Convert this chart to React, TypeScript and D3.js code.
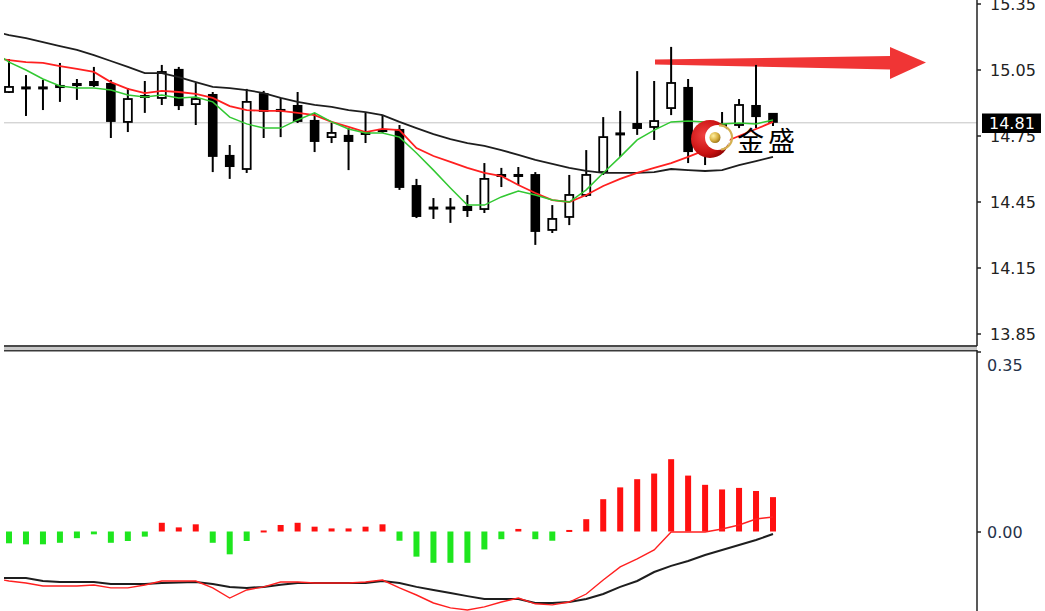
import React from "react";
import * as d3 from "d3";

const W = 1045;
const H = 611;

const priceTicks = [15.35, 15.05, 14.75, 14.45, 14.15, 13.85];
const macdTicks = [0.35, 0.0];
const lastPrice = 14.81;
const logoText = "金盛";

const open = [14.950, 14.973, 14.973, 14.982, 14.991, 15.000, 14.991, 14.814, 14.936, 14.923, 15.055, 14.895, 14.941, 14.664, 14.600, 14.945, 14.873, 14.891, 14.823, 14.745, 14.755, 14.768, 14.782, 14.782, 14.527, 14.427, 14.427, 14.432, 14.418, 14.577, 14.577, 14.577, 14.323, 14.382, 14.482, 14.586, 14.764, 14.809, 14.791, 14.877, 14.973, 14.732, 14.773, 14.800, 14.891, 14.855];
const high = [15.100, 15.027, 15.005, 15.082, 15.009, 15.064, 15.005, 14.968, 15.000, 15.073, 15.064, 14.991, 14.950, 14.709, 14.964, 14.955, 14.923, 14.950, 14.855, 14.809, 14.786, 14.855, 14.845, 14.800, 14.555, 14.468, 14.468, 14.482, 14.627, 14.605, 14.609, 14.586, 14.436, 14.573, 14.686, 14.836, 14.864, 15.045, 15.000, 15.155, 15.009, 14.786, 14.859, 14.918, 15.073, 14.855];
const low = [14.945, 14.841, 14.868, 14.905, 14.914, 14.973, 14.741, 14.768, 14.855, 14.891, 14.868, 14.800, 14.586, 14.555, 14.582, 14.741, 14.745, 14.809, 14.677, 14.718, 14.595, 14.718, 14.764, 14.505, 14.377, 14.373, 14.355, 14.382, 14.400, 14.518, 14.527, 14.255, 14.309, 14.345, 14.473, 14.573, 14.655, 14.755, 14.732, 14.845, 14.627, 14.618, 14.745, 14.786, 14.786, 14.795];
const close = [14.973, 14.964, 14.964, 14.968, 14.977, 14.977, 14.814, 14.918, 14.923, 15.041, 14.886, 14.918, 14.655, 14.609, 14.905, 14.859, 14.859, 14.814, 14.723, 14.764, 14.723, 14.755, 14.768, 14.514, 14.382, 14.418, 14.418, 14.409, 14.555, 14.564, 14.564, 14.314, 14.373, 14.482, 14.573, 14.745, 14.755, 14.782, 14.818, 14.991, 14.677, 14.705, 14.800, 14.891, 14.836, 14.810];

// moving averages: first value belongs to the (hidden) bar before the first candle
const maSlow = [15.227, 15.209, 15.195, 15.177, 15.159, 15.141, 15.118, 15.091, 15.064, 15.036, 15.036, 15.018, 14.995, 14.973, 14.968, 14.959, 14.945, 14.923, 14.905, 14.891, 14.882, 14.868, 14.859, 14.845, 14.814, 14.786, 14.759, 14.736, 14.718, 14.705, 14.686, 14.664, 14.641, 14.623, 14.605, 14.591, 14.582, 14.582, 14.582, 14.586, 14.600, 14.595, 14.591, 14.595, 14.618, 14.636, 14.655];
const maMid = [15.105, 15.095, 15.086, 15.082, 15.068, 15.055, 15.041, 14.995, 14.964, 14.945, 14.955, 14.950, 14.941, 14.923, 14.886, 14.868, 14.864, 14.864, 14.855, 14.845, 14.814, 14.791, 14.768, 14.782, 14.777, 14.695, 14.659, 14.632, 14.605, 14.582, 14.568, 14.527, 14.491, 14.459, 14.450, 14.482, 14.523, 14.555, 14.582, 14.605, 14.627, 14.655, 14.686, 14.718, 14.750, 14.782, 14.814];
const maFast = [15.140, 15.086, 15.050, 15.009, 14.977, 14.968, 14.968, 14.959, 14.936, 14.927, 14.936, 14.923, 14.927, 14.905, 14.836, 14.805, 14.786, 14.786, 14.823, 14.855, 14.814, 14.782, 14.764, 14.764, 14.745, 14.673, 14.595, 14.514, 14.436, 14.436, 14.473, 14.500, 14.482, 14.459, 14.450, 14.505, 14.582, 14.655, 14.732, 14.777, 14.814, 14.818, 14.814, 14.805, 14.809, 14.805, 14.823];

const hist = [-0.023, -0.025, -0.025, -0.022, -0.013, -0.0055, -0.022, -0.0185, -0.010, 0.017, 0.008, 0.014, -0.022, -0.0445, -0.0185, 0.002, 0.0127, 0.017, 0.0094, 0.006, 0.006, 0.0094, 0.014, -0.018, -0.049, -0.061, -0.061, -0.061, -0.035, -0.015, 0.005, -0.015, -0.018, 0.003, 0.024, 0.063, 0.086, 0.102, 0.113, 0.141, 0.109, 0.091, 0.082, 0.085, 0.079, 0.067];
// first value belongs to the hidden bar before the first candle
const signalLine = [-0.0907, -0.0907, -0.0907, -0.0965, -0.0985, -0.0985, -0.0985, -0.1024, -0.1024, -0.1024, -0.1004, -0.0995, -0.0985, -0.1024, -0.108, -0.110, -0.108, -0.104, -0.1004, -0.1004, -0.1004, -0.1004, -0.1004, -0.0965, -0.1004, -0.108, -0.114, -0.120, -0.126, -0.1316, -0.1316, -0.1316, -0.1394, -0.1394, -0.1375, -0.1316, -0.1219, -0.108, -0.0965, -0.079, -0.067, -0.0575, -0.0458, -0.036, -0.0263, -0.0166, -0.0049];
const macdLine = [-0.0907, -0.0965, -0.1004, -0.1063, -0.1063, -0.1063, -0.1043, -0.110, -0.110, -0.1043, -0.0965, -0.0965, -0.0965, -0.110, -0.1297, -0.114, -0.108, -0.0985, -0.0985, -0.1004, -0.1004, -0.1004, -0.0985, -0.0946, -0.110, -0.1238, -0.1394, -0.149, -0.153, -0.147, -0.1375, -0.1297, -0.141, -0.143, -0.1375, -0.1219, -0.0946, -0.069, -0.0536, -0.036, -0.001, -0.001, -0.001, 0.0049, 0.0127, 0.0244, 0.0283];

export default function App() {
  const x = d3.scaleLinear().domain([0, close.length - 1]).range([9, 773]);
  const yP = d3.scaleLinear().domain([13.85, 15.35]).range([334, 4]);
  const yM = d3.scaleLinear().domain([0, 0.35]).range([531.5, 352]);

  const lineP = d3.line<number>().x((_, i) => x(i - 1)).y((d) => yP(d));
  const lineM = d3.line<number>().x((_, i) => x(i - 1)).y((d) => yM(d));

  const axisX = 977;
  const font = "DejaVu Sans, Verdana, sans-serif";

  return (
    <div style={{ position: "fixed", left: 0, top: 0, width: W, height: H, background: "#fff" }}>
      <svg width={W} height={H} style={{ display: "block" }}>
        <defs>
          <clipPath id="mainClip">
            <rect x={4} y={0} width={axisX - 4} height={345} />
          </clipPath>
          <clipPath id="subClip">
            <rect x={4} y={351} width={axisX - 4} height={H - 351} />
          </clipPath>
          <radialGradient id="logoRed" cx="35%" cy="40%" r="70%">
            <stop offset="0%" stopColor="#f04040" />
            <stop offset="70%" stopColor="#c81010" />
            <stop offset="100%" stopColor="#8a0000" />
          </radialGradient>
          <radialGradient id="logoGold" cx="35%" cy="35%" r="70%">
            <stop offset="0%" stopColor="#fff0a0" />
            <stop offset="60%" stopColor="#d8b040" />
            <stop offset="100%" stopColor="#9a7418" />
          </radialGradient>
        </defs>
        <rect x={0} y={0} width={W} height={H} fill="#fff" />

        {/* main panel */}
        <g clipPath="url(#mainClip)">
          <line x1={4} x2={axisX} y1={yP(lastPrice)} y2={yP(lastPrice)} stroke="#c4c4c4" strokeWidth={1} />
          {/* arrow */}
          <polygon
            points={`655,59.5 890,56 890,47 926,62.5 890,79 890,69.5 655,64.5`}
            fill="#f03535"
          />
          {/* candles */}
          {close.map((c, i) => {
            const o = open[i];
            const bull = c > o;
            const cx = x(i);
            const top = yP(Math.max(o, c));
            const bot = yP(Math.min(o, c));
            const h = Math.max(bot - top, 3);
            const t = bot - top < 3 ? (top + bot) / 2 - 1.5 : top;
            return (
              <g key={i}>
                <line x1={cx} x2={cx} y1={yP(high[i])} y2={yP(low[i])} stroke="#000" strokeWidth={2} />
                {bull ? (
                  <rect x={cx - 4} y={t} width={8} height={h} fill="#fff" stroke="#000" strokeWidth={1.8} />
                ) : (
                  <rect x={cx - 4.8} y={t} width={9.6} height={h} fill="#000" />
                )}
              </g>
            );
          })}
          <path d={lineP(maSlow) || ""} fill="none" stroke="#1e1e1e" strokeWidth={1.8} />
          <path d={lineP(maMid) || ""} fill="none" stroke="#ff2020" strokeWidth={1.8} />
          <path d={lineP(maFast) || ""} fill="none" stroke="#32c832" strokeWidth={1.5} />

          {/* logo */}
          <g>
            <circle cx={710} cy={139} r={19} fill="url(#logoRed)" />
            <circle cx={717.5} cy={137.5} r={12.5} fill="#fff" />
            <path d="M 719 125.5 A 12 12 0 0 1 721 149.5" fill="none" stroke="#d4b050" strokeWidth={2.2} />
            <circle cx={715} cy={137.5} r={5.5} fill="url(#logoGold)" />
            <text x={737} y={151} fontFamily="Noto Sans CJK SC, sans-serif" fontSize={27} letterSpacing={4} fill="#000">
              {logoText}
            </text>
          </g>
        </g>

        {/* sub panel */}
        <g clipPath="url(#subClip)">
          {hist.map((v, i) => {
            const y0 = yM(0);
            const y1 = yM(v);
            const top = Math.min(y0, y1);
            const h = Math.max(Math.abs(y1 - y0), 2);
            return (
              <rect key={i} x={x(i) - 3} y={top} width={6} height={h} fill={v >= 0 ? "#ff1010" : "#1ee61e"} />
            );
          })}
          <path d={lineM(signalLine) || ""} fill="none" stroke="#1e1e1e" strokeWidth={2} />
          <path d={lineM(macdLine) || ""} fill="none" stroke="#ff2020" strokeWidth={1.4} />
        </g>

        {/* separators / frame */}
        <rect x={4} y={345} width={axisX - 4} height={2} fill="#4a4a4a" />
        <rect x={4} y={347} width={axisX - 4} height={3} fill="#c8c8c8" />
        <rect x={4} y={350} width={axisX - 4} height={1.5} fill="#3a3a3a" />
        <line x1={axisX} x2={axisX} y1={0} y2={346} stroke="#222" strokeWidth={1.5} />
        <line x1={axisX} x2={axisX} y1={350} y2={H} stroke="#222" strokeWidth={1.5} />

        {/* price axis */}
        {priceTicks.map((t) => (
          <g key={t}>
            <line x1={axisX} x2={axisX + 4} y1={yP(t)} y2={yP(t)} stroke="#222" strokeWidth={1.5} />
            <text x={990} y={yP(t) + 6} fontFamily={font} fontSize={16} fill="#222">
              {t.toFixed(2)}
            </text>
          </g>
        ))}
        <rect x={982} y={113.5} width={59} height={19.5} fill="#000" />
        <text x={989} y={yP(lastPrice) + 6} fontFamily={font} fontSize={16} fill="#fff">
          {lastPrice.toFixed(2)}
        </text>

        {/* macd axis */}
        {macdTicks.map((t) => (
          <g key={t}>
            <line x1={axisX} x2={axisX + 4} y1={t === 0 ? 532 : yM(t)} y2={t === 0 ? 532 : yM(t)} stroke="#222" strokeWidth={1.5} />
            <text x={987} y={(t === 0 ? yM(t) : yM(t) + 13) + 6} fontFamily={font} fontSize={16} fill="#26324a">
              {t.toFixed(2)}
            </text>
          </g>
        ))}
      </svg>
    </div>
  );
}
